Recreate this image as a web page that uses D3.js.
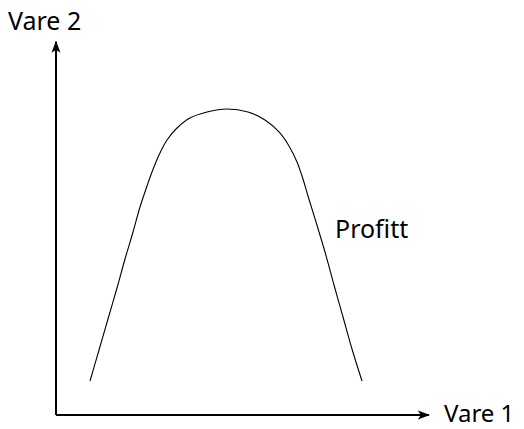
<!DOCTYPE html>
<html>
<head>
<meta charset="utf-8">
<script src="https://cdn.jsdelivr.net/npm/d3@7"></script>
<style>
  body { margin: 0; background: #fff; }
  text { font-family: "Noto Sans", sans-serif; fill: #000; }
</style>
</head>
<body>
<script>
// profit curve (axis units, origin at the corner)
var curveX = [0.909, 1.150, 1.390, 1.631, 1.845, 2.059, 2.246, 2.406, 2.567, 2.754, 2.968, 3.235, 3.583, 4.037, 4.572,
              5.134, 5.588, 5.963, 6.230, 6.444, 6.604, 6.738, 6.952, 7.193, 7.433, 7.674, 7.914, 8.182];
var curveY = [0.909, 1.738, 2.567, 3.396, 4.171, 4.893, 5.561, 6.043, 6.497, 6.952, 7.353, 7.674, 7.941, 8.102, 8.182,
              8.102, 7.888, 7.567, 7.193, 6.765, 6.310, 5.856, 5.160, 4.358, 3.476, 2.620, 1.765, 0.909];

var xLabel = "Vare 1";
var yLabel = "Vare 2";
var curveLabel = "Profitt";
var curveLabelPos = [7.46, 4.73];

var svgWidth = 524;
var svgHeight = 429;

var origin = { x: 56, y: 415 };
var unit = 37.4;

var svg = d3.select("body")
  .append("svg")
  .attr("width", svgWidth)
  .attr("height", svgHeight);

var xScale = d3.scaleLinear().domain([0, 10]).range([origin.x, origin.x + 10 * unit]);
var yScale = d3.scaleLinear().domain([0, 10]).range([origin.y, origin.y - 10 * unit]);

// arrow head
svg.append("defs").append("marker")
  .attr("id", "arrow")
  .attr("viewBox", "0 -5 12 10")
  .attr("refX", 11)
  .attr("refY", 0)
  .attr("markerUnits", "userSpaceOnUse")
  .attr("markerWidth", 12)
  .attr("markerHeight", 10)
  .attr("orient", "auto")
  .append("path")
  .attr("d", "M0,-4.5 L12,0 L0,4.5 L3,0 Z")
  .attr("fill", "#000");

// axes
svg.append("line")
  .attr("x1", xScale(0)).attr("y1", yScale(0))
  .attr("x2", xScale(9.97)).attr("y2", yScale(0))
  .attr("stroke", "#000").attr("stroke-width", 2)
  .attr("marker-end", "url(#arrow)");

svg.append("line")
  .attr("x1", xScale(0)).attr("y1", yScale(0))
  .attr("x2", xScale(0)).attr("y2", yScale(9.98))
  .attr("stroke", "#000").attr("stroke-width", 2)
  .attr("marker-end", "url(#arrow)");

// curve
var pts = curveX.map(function (x, i) { return [x, curveY[i]]; });
var line = d3.line()
  .x(function (d) { return xScale(d[0]); })
  .y(function (d) { return yScale(d[1]); })
  .curve(d3.curveCatmullRom.alpha(0.5));

svg.append("path")
  .datum(pts)
  .attr("d", line)
  .attr("fill", "none")
  .attr("stroke", "#000")
  .attr("stroke-width", 1.1);

// labels
svg.append("text")
  .attr("x", 444)
  .attr("y", 422)
  .attr("font-size", 24)
  .text(xLabel);

svg.append("text")
  .attr("x", 8)
  .attr("y", 30)
  .attr("font-size", 25)
  .text(yLabel);

svg.append("text")
  .attr("x", xScale(curveLabelPos[0]))
  .attr("y", yScale(curveLabelPos[1]))
  .attr("font-size", 25)
  .text(curveLabel);
</script>
</body>
</html>
